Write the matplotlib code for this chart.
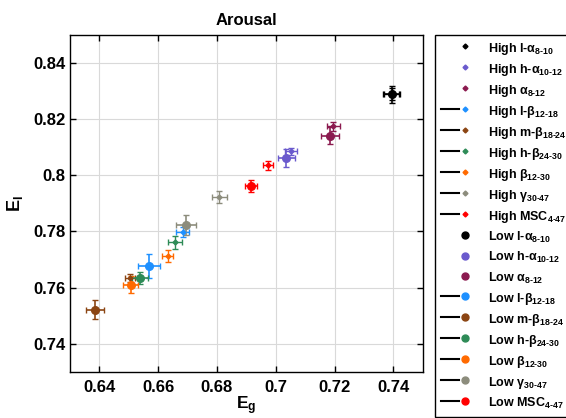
import matplotlib
matplotlib.use("Agg")
import matplotlib.pyplot as plt
from matplotlib.lines import Line2D
from matplotlib.legend_handler import HandlerBase

plt.rcParams['font.family'] = ['Liberation Sans', 'DejaVu Sans']
plt.rcParams['mathtext.fontset'] = 'custom'
plt.rcParams['mathtext.rm'] = 'Liberation Sans:bold'
plt.rcParams['mathtext.it'] = 'Liberation Sans:bold'
plt.rcParams['mathtext.bf'] = 'Liberation Sans:bold'
plt.rcParams['mathtext.default'] = 'bf'

H = "\u2010"
bands = [r"l-$\alpha_{8%s10}$" % H, r"h-$\alpha_{10%s12}$" % H, r"$\alpha_{8%s12}$" % H,
         r"l-$\beta_{12%s18}$" % H, r"m-$\beta_{18%s24}$" % H, r"h-$\beta_{24%s30}$" % H,
         r"$\beta_{12%s30}$" % H, r"$\gamma_{30%s47}$" % H, r"MSC$_{4%s47}$" % H]
colors = ['#000000', '#6a5acd', '#8b1a4f', '#1e90ff', '#8b4513', '#2e8b57',
          '#ff6a00', '#8c8c7c', '#ff0000']
legend_line = [False, False, False, True, True, True, True, True, True]

high_x = [0.7394, 0.7052, 0.7196, 0.6683, 0.6504, 0.6658, 0.6632, 0.6808, 0.6975]
high_y = [0.8290, 0.8086, 0.8174, 0.7798, 0.7633, 0.7761, 0.7713, 0.7924, 0.8035]
high_xerr = [0.0025, 0.0020, 0.0021, 0.0022, 0.0017, 0.0023, 0.0018, 0.0025, 0.0017]
high_yerr = [0.0020, 0.0013, 0.0015, 0.0018, 0.0015, 0.0022, 0.0021, 0.0021, 0.0016]

low_x = [0.7394, 0.7035, 0.7184, 0.6569, 0.6385, 0.6539, 0.6506, 0.6695, 0.6915]
low_y = [0.8288, 0.8062, 0.8141, 0.7677, 0.7521, 0.7634, 0.7610, 0.7822, 0.7961]
low_xerr = [0.0030, 0.0029, 0.0030, 0.0036, 0.0030, 0.0027, 0.0027, 0.0035, 0.0020]
low_yerr = [0.0030, 0.0033, 0.0030, 0.0042, 0.0034, 0.0022, 0.0030, 0.0036, 0.0022]

fig = plt.figure(figsize=(5.66, 4.18), dpi=100)
ax = fig.add_axes([70/566, 1-371.7/418, (422.7-70)/566, (371.7-35)/418])

for i in range(len(bands)):
    ax.errorbar(high_x[i], high_y[i], xerr=high_xerr[i], yerr=high_yerr[i],
                fmt='D', ms=2.5, color=colors[i], ecolor=colors[i], elinewidth=1,
                capsize=2, capthick=1, zorder=3)
for i in range(len(bands)):
    ax.errorbar(low_x[i], low_y[i], xerr=low_xerr[i], yerr=low_yerr[i],
                fmt='o', ms=5.5, color=colors[i], ecolor=colors[i], elinewidth=1.2,
                capsize=2, capthick=1, zorder=3)

ax.set_xlim(0.63, 0.75)
ax.set_ylim(0.73, 0.85)
ax.set_xticks([0.64, 0.66, 0.68, 0.70, 0.72, 0.74])
ax.set_xticklabels(['0.64', '0.66', '0.68', '0.7', '0.72', '0.74'])
ax.set_yticks([0.74, 0.76, 0.78, 0.80, 0.82, 0.84])
ax.set_yticklabels(['0.74', '0.76', '0.78', '0.8', '0.82', '0.84'])
ax.grid(True, color='#d9d9d9', lw=0.8)
ax.set_axisbelow(True)
ax.tick_params(direction='in', top=True, right=True, length=4, width=1, labelsize=12)
ax.tick_params(axis='x', pad=6)
ax.tick_params(axis='y', pad=3.5)
for lab in ax.get_xticklabels() + ax.get_yticklabels():
    lab.set_fontweight('bold')
for s in ax.spines.values():
    s.set_linewidth(1)
ax.set_title('Arousal', fontsize=12, fontweight='bold', pad=7)
ax.set_xlabel(r'E$_{g}$', fontsize=12.5, fontweight='bold', labelpad=-0.5)
ax.set_ylabel(r'E$_{l}$', fontsize=13, fontweight='bold', labelpad=6)


class EntryHandler(HandlerBase):
    def __init__(self, color, marker, ms, line):
        super().__init__()
        self.color, self.marker, self.ms, self.line = color, marker, ms, line

    def create_artists(self, legend, orig_handle, xdescent, ydescent, width, height, fontsize, trans):
        y = height / 2 - ydescent + 1
        arts = []
        if self.line:
            l = Line2D([-xdescent, -xdescent + 0.68 * width], [y, y], color='k', lw=1.5)
            l.set_transform(trans)
            arts.append(l)
        m = Line2D([-xdescent + 0.92 * width], [y], marker=self.marker, ms=self.ms,
                   color=self.color, ls='none')
        m.set_transform(trans)
        arts.append(m)
        return arts


handles, labels, hmap = [], [], {}
for grp, mk, ms in [('High', 'D', 2.5), ('Low', 'o', 5)]:
    for i in range(len(bands)):
        h = Line2D([], [])
        handles.append(h)
        labels.append(grp + ' ' + bands[i])
        hmap[h] = EntryHandler(colors[i], mk, ms, legend_line[i])

leg = fig.legend(handles, labels, handler_map=hmap, loc='upper left',
                 bbox_to_anchor=(435/566, 1-35/418), borderaxespad=0,
                 prop={'weight': 'bold', 'size': 9}, handlelength=2.1,
                 handletextpad=1.6, labelspacing=0.40, borderpad=0.5,
                 fancybox=False, edgecolor='k', framealpha=1)
leg.get_frame().set_linewidth(1)

fig.savefig('out.png', dpi=100)
